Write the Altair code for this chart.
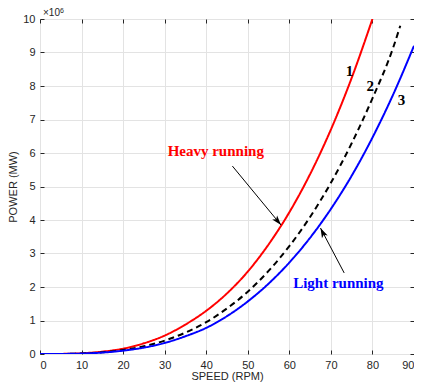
import altair as alt
import pandas as pd

# ---- data ----
speed_heavy = [0, 5, 10, 15, 20, 25, 30, 35, 40, 45, 50, 55, 60, 65, 70, 75, 80]
power_heavy = [0, 0.003, 0.02, 0.07, 0.16, 0.32, 0.55, 0.88, 1.29, 1.81, 2.46, 3.27, 4.23, 5.37, 6.70, 8.24, 10.0]

speed_nominal = [0, 5, 10, 15, 20, 25, 30, 35, 40, 45, 50, 55, 60, 65, 70, 75, 80, 85, 86.7]
power_nominal = [0, 0.002, 0.015, 0.05, 0.12, 0.23, 0.40, 0.64, 0.95, 1.36, 1.86, 2.48, 3.22, 4.09, 5.11, 6.29, 7.63, 9.15, 9.8]

speed_light = [0, 5, 10, 15, 20, 25, 30, 35, 40, 45, 50, 55, 60, 65, 70, 75, 80, 85, 90]
power_light = [0, 0.002, 0.013, 0.043, 0.10, 0.19, 0.33, 0.53, 0.78, 1.13, 1.57, 2.10, 2.73, 3.47, 4.33, 5.32, 6.46, 7.75, 9.2]

series_names = ["1", "2", "3"]
series_colors = ["#ff0000", "#000000", "#0000ff"]

curve_labels = ["1", "2", "3"]
curve_label_x = [74.5, 79.5, 87.0]
curve_label_y = [8.45, 8.0, 7.58]

note_texts = ["Heavy running", "Light running"]
note_colors = ["#ff0000", "#0000ff"]
note_x = [42.3, 71.8]
note_y = [6.06, 2.12]

arrow_x = [46.3, 73.2]
arrow_y = [5.61, 2.42]
arrow_x2 = [58.0, 67.5]
arrow_y2 = [3.85, 3.76]
arrow_angle = [140, 334]

x_ticks = [0, 10, 20, 30, 40, 50, 60, 70, 80, 90]
y_ticks = [0, 1, 2, 3, 4, 5, 6, 7, 8, 9, 10]

# ---- tables ----
rows = []
for s, xs_, ys_ in [("1", speed_heavy, power_heavy), ("2", speed_nominal, power_nominal), ("3", speed_light, power_light)]:
    for i, (a, b) in enumerate(zip(xs_, ys_)):
        rows.append({"speed": a, "power": b, "series": s, "order": i})
curves = pd.DataFrame(rows)
labels_df = pd.DataFrame({"t": curve_labels, "x": curve_label_x, "y": curve_label_y})
notes_df = pd.DataFrame({"t": note_texts, "c": note_colors, "x": note_x, "y": note_y})
arrows_df = pd.DataFrame({"x": arrow_x, "y": arrow_y, "x2": arrow_x2, "y2": arrow_y2, "a": arrow_angle})

xs = alt.Scale(domain=[0, 90], nice=False)
ys = alt.Scale(domain=[0, 10], nice=False)

axis_common = dict(domain=False, tickSize=4, tickColor="#262626", offset=-4,
                   labelColor="#262626", labelFont="Liberation Sans", labelFontSize=11,
                   titleFont="Liberation Sans", titleFontSize=11, titleFontWeight="normal",
                   titleColor="#262626")

lines = alt.Chart(curves).mark_line(strokeWidth=2, interpolate="monotone", clip=True).encode(
    x=alt.X("speed:Q", scale=xs,
            axis=alt.Axis(title="SPEED (RPM)", values=x_ticks, grid=True, gridColor="#e3e3e3",
                          labelPadding=5, titlePadding=0, **axis_common)),
    y=alt.Y("power:Q", scale=ys,
            axis=alt.Axis(title="POWER (MW)", values=y_ticks, grid=True, gridColor="#e3e3e3",
                          labelPadding=5, titlePadding=4, **axis_common)),
    color=alt.Color("series:N", scale=alt.Scale(domain=series_names, range=series_colors), legend=None),
    strokeDash=alt.StrokeDash("series:N", scale=alt.Scale(domain=series_names, range=[[1, 0], [6, 4], [1, 0]]), legend=None),
    order="order:Q",
)

frame = alt.Chart(curves).mark_line(opacity=0).encode(
    x=alt.X("speed:Q", scale=xs,
            axis=alt.Axis(orient="top", title=None, values=x_ticks, labels=False, grid=False,
                          domain=False, tickSize=4, tickColor="#262626", offset=-4)),
    y=alt.Y("power:Q", scale=ys,
            axis=alt.Axis(orient="right", title=None, values=y_ticks, labels=False, grid=False,
                          domain=False, tickSize=4, tickColor="#262626", offset=-4)),
)

nums = alt.Chart(labels_df).mark_text(font="Liberation Serif", fontWeight="bold", fontSize=15,
                                      color="#000000").encode(
    x=alt.X("x:Q", scale=xs, axis=None), y=alt.Y("y:Q", scale=ys, axis=None), text="t:N")

notes = alt.Chart(notes_df).mark_text(font="Liberation Serif", fontWeight="bold", fontSize=15).encode(
    x=alt.X("x:Q", scale=xs, axis=None), y=alt.Y("y:Q", scale=ys, axis=None), text="t:N",
    color=alt.Color("c:N", scale=None))

shafts = alt.Chart(arrows_df).mark_rule(color="#000000", strokeWidth=1).encode(
    x=alt.X("x:Q", scale=xs, axis=None), y=alt.Y("y:Q", scale=ys, axis=None), x2="x2:Q", y2="y2:Q")

heads = alt.Chart(arrows_df).mark_point(shape="M0,0 L0.45,1.4 L0,1.05 L-0.45,1.4 Z", filled=True,
                                        color="#000000", size=200, opacity=1).encode(
    x=alt.X("x2:Q", scale=xs, axis=None), y=alt.Y("y2:Q", scale=ys, axis=None),
    angle=alt.Angle("a:Q", scale=None))

exp_base = alt.Chart(pd.DataFrame({"t": ["\u00d710"]})).mark_text(
    font="Liberation Sans", fontSize=10, color="#262626", align="left", baseline="alphabetic").encode(
    x=alt.value(3), y=alt.value(-3), text="t:N")
exp_pow = alt.Chart(pd.DataFrame({"t": ["6"]})).mark_text(
    font="Liberation Sans", fontSize=7, color="#262626", align="left", baseline="alphabetic").encode(
    x=alt.value(20), y=alt.value(-6), text="t:N")

chart = alt.layer(lines, frame, shafts, heads, notes, nums, exp_base, exp_pow).resolve_axis(
    x="independent", y="independent").properties(
    width=374, height=335,
    autosize=alt.AutoSizeParams(type="none"),
    padding={"left": 32, "top": 11, "right": 0, "bottom": 28},
).configure_view(stroke="#262626", strokeWidth=1).configure(background="#ffffff")

chart.save("out.html", embed_options={"renderer": "svg", "actions": False})
